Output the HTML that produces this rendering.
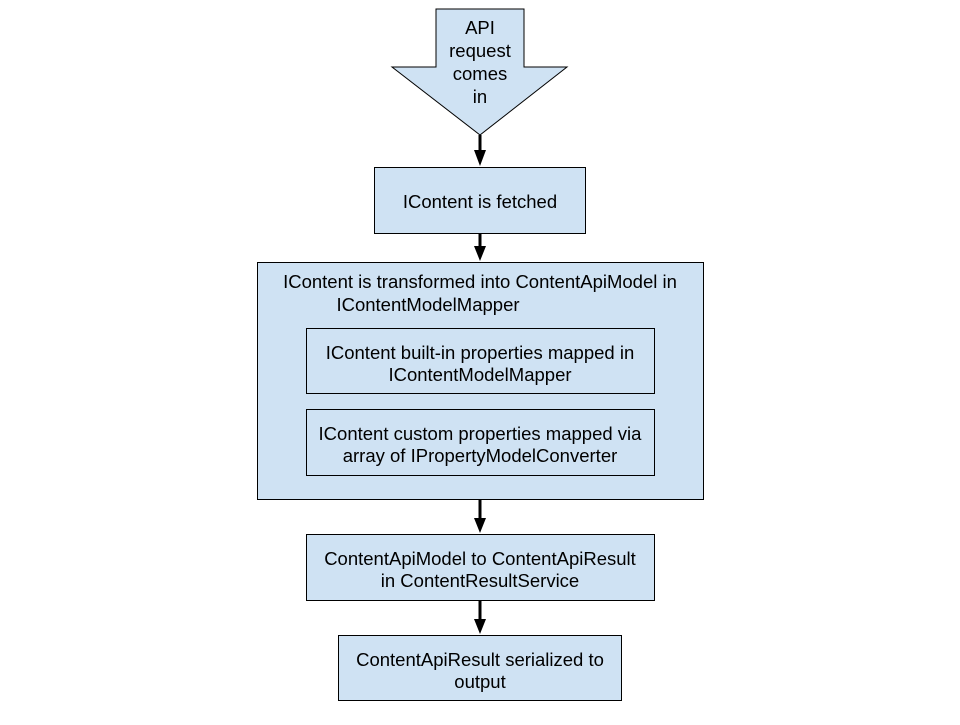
<!DOCTYPE html>
<html><head><style>body{margin:0;background:#fff}</style></head><body>
<svg width="960" height="720" xmlns="http://www.w3.org/2000/svg" font-family="Liberation Sans, Arial, sans-serif" font-size="18.5" text-anchor="middle">
<rect width="960" height="720" fill="#fff"/>
<polygon points="436,9 524,9 524,67 567,67 480,135 392,67 436,67" fill="#cfe2f3" stroke="#000" stroke-width="1"/>
<text x="480" y="34">API</text><text x="480" y="57">request</text><text x="480" y="80">comes</text><text x="480" y="103">in</text>
<g stroke="#000" stroke-width="3"><line x1="480" y1="135" x2="480" y2="152"/><line x1="480" y1="233" x2="480" y2="247"/><line x1="480" y1="499" x2="480" y2="519"/><line x1="480" y1="600" x2="480" y2="620"/></g>
<g fill="#000"><polygon points="474,150 486,150 480,166"/><polygon points="474,246 486,246 480,261"/><polygon points="474,518 486,518 480,533"/><polygon points="474,619 486,619 480,634"/></g>
<g fill="#cfe2f3" stroke="#000" stroke-width="1">
<rect x="374.5" y="167.5" width="211" height="66"/>
<rect x="257.5" y="262.5" width="446" height="237"/>
<rect x="306.5" y="328.5" width="348" height="65"/>
<rect x="306.5" y="409.5" width="348" height="66"/>
<rect x="306.5" y="534.5" width="348" height="66"/>
<rect x="338.5" y="635.5" width="283" height="65"/>
</g>
<text x="480" y="208">IContent is fetched</text>
<text x="480" y="288">IContent is transformed into ContentApiModel in</text>
<text x="428" y="311">IContentModelMapper</text>
<text x="480" y="359">IContent built-in properties mapped in</text>
<text x="480" y="381">IContentModelMapper</text>
<text x="480" y="440">IContent custom properties mapped via</text>
<text x="480" y="462">array of IPropertyModelConverter</text>
<text x="480" y="565">ContentApiModel to ContentApiResult</text>
<text x="480" y="587">in ContentResultService</text>
<text x="480" y="666">ContentApiResult serialized to</text>
<text x="480" y="688">output</text>
</svg>
</body></html>
